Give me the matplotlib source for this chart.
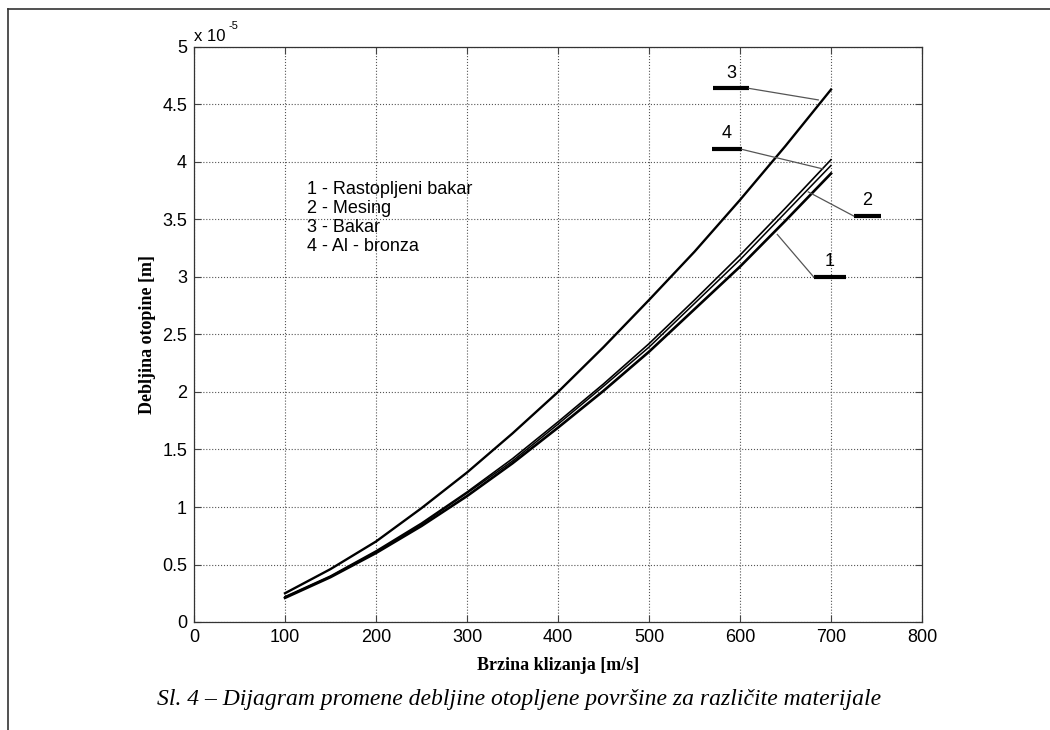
# Debljina otopine vs brzina klizanja - recreated figure
import numpy as np
import matplotlib
matplotlib.use('Agg')
import matplotlib.pyplot as plt

## Data (thickness in units of 1e-5 m)
brzina = [100, 150, 200, 250, 300, 350, 400, 450, 500, 550, 600, 650, 700]
rastopljeni_bakar = [0.21, 0.39, 0.60, 0.835, 1.095, 1.38, 1.69, 2.01, 2.35, 2.72, 3.09, 3.49, 3.90]
mesing = [0.215, 0.395, 0.61, 0.85, 1.12, 1.40, 1.72, 2.05, 2.39, 2.77, 3.15, 3.56, 3.97]
bakar = [0.25, 0.46, 0.70, 0.99, 1.30, 1.64, 2.00, 2.39, 2.80, 3.22, 3.67, 4.14, 4.63]
al_bronza = [0.22, 0.40, 0.618, 0.86, 1.13, 1.42, 1.74, 2.07, 2.42, 2.80, 3.19, 3.60, 4.02]

x_ticks = [0, 100, 200, 300, 400, 500, 600, 700, 800]
y_ticks = [0, 0.5, 1, 1.5, 2, 2.5, 3, 3.5, 4, 4.5, 5]
y_tick_labels = ['0', '0.5', '1', '1.5', '2', '2.5', '3', '3.5', '4', '4.5', '5']

legend_lines = ['1 - Rastopljeni bakar', '2 - Mesing', '3 - Bakar', '4 - Al - bronza']

# curve labels: text, bar start/end, bar height, leader line end on curve
labels = ['1', '2', '3', '4']
bar_x0 = [681, 725, 570, 569]
bar_x1 = [716, 755, 610, 602]
bar_y = [3.0, 3.53, 4.64, 4.11]
lead_from = [681, 725, 610, 602]
lead_x = [641, 675, 686, 691]
lead_y = [3.37, 3.74, 4.54, 3.94]

## Figure
fig = plt.figure(figsize=(10.5, 7.3), dpi=100)
ax = fig.add_axes([194 / 1050, 108 / 730, 728 / 1050, 575 / 730])

ax.plot(brzina, rastopljeni_bakar, color='black', lw=1.9)
ax.plot(brzina, mesing, color='black', lw=1.1)
ax.plot(brzina, bakar, color='black', lw=1.7)
ax.plot(brzina, al_bronza, color='black', lw=1.2)

for i in range(4):
    ax.plot([bar_x0[i], bar_x1[i]], [bar_y[i], bar_y[i]], color='black', lw=3, solid_capstyle='butt')
    ax.plot([lead_from[i], lead_x[i]], [bar_y[i], lead_y[i]], color='#555555', lw=0.9)
    ax.text((bar_x0[i] + bar_x1[i]) / 2, bar_y[i] + 0.06, labels[i], ha='center', va='bottom',
            fontsize=13, family='Liberation Sans')

for k, line in enumerate(legend_lines):
    ax.text(124, 3.76 - k * 0.165, line, ha='left', va='center', fontsize=13, family='Liberation Sans')

ax.set_xlim(0, 800)
ax.set_ylim(0, 5)
ax.set_xticks(x_ticks)
ax.set_yticks(y_ticks)
ax.set_yticklabels(y_tick_labels)
ax.tick_params(direction='in', top=True, right=True, length=5, width=0.8, color='#444444',
               labelsize=13, pad=5)
for lab in ax.get_xticklabels() + ax.get_yticklabels():
    lab.set_family('Liberation Sans')
ax.grid(True, linestyle=':', color='#555555', lw=0.8)
for s in ax.spines.values():
    s.set_color('#333333')
    s.set_linewidth(0.9)

ax.text(0.0, 1.006, 'x 10', transform=ax.transAxes, ha='left', va='bottom',
        fontsize=12, family='Liberation Sans')
ax.text(0.047, 1.028, '-5', transform=ax.transAxes, ha='left', va='bottom',
        fontsize=8, family='Liberation Sans')

ax.set_ylabel('Debljina otopine [m]', fontsize=13, fontweight='bold', family='Liberation Serif')
ax.yaxis.set_label_coords(-0.052, 0.5)
ax.set_xlabel('Brzina klizanja [m/s]', fontsize=13, fontweight='bold', family='Liberation Serif')
ax.xaxis.set_label_coords(0.5, -0.06)

fig.text(519 / 1050, 1 - 700 / 730, 'Sl. 4 – Dijagram promene debljine otopljene površine za različite materijale',
         ha='center', va='center', fontsize=17, style='italic', family='Liberation Serif')

# outer frame (top and left only)
fig.add_artist(plt.Line2D([8 / 1050, 1], [1 - 9 / 730, 1 - 9 / 730], color='#333333', lw=1.2,
                          transform=fig.transFigure))
fig.add_artist(plt.Line2D([8 / 1050, 8 / 1050], [0, 1 - 9 / 730], color='#333333', lw=1.2,
                          transform=fig.transFigure))

fig.savefig('out.png', dpi=100)
